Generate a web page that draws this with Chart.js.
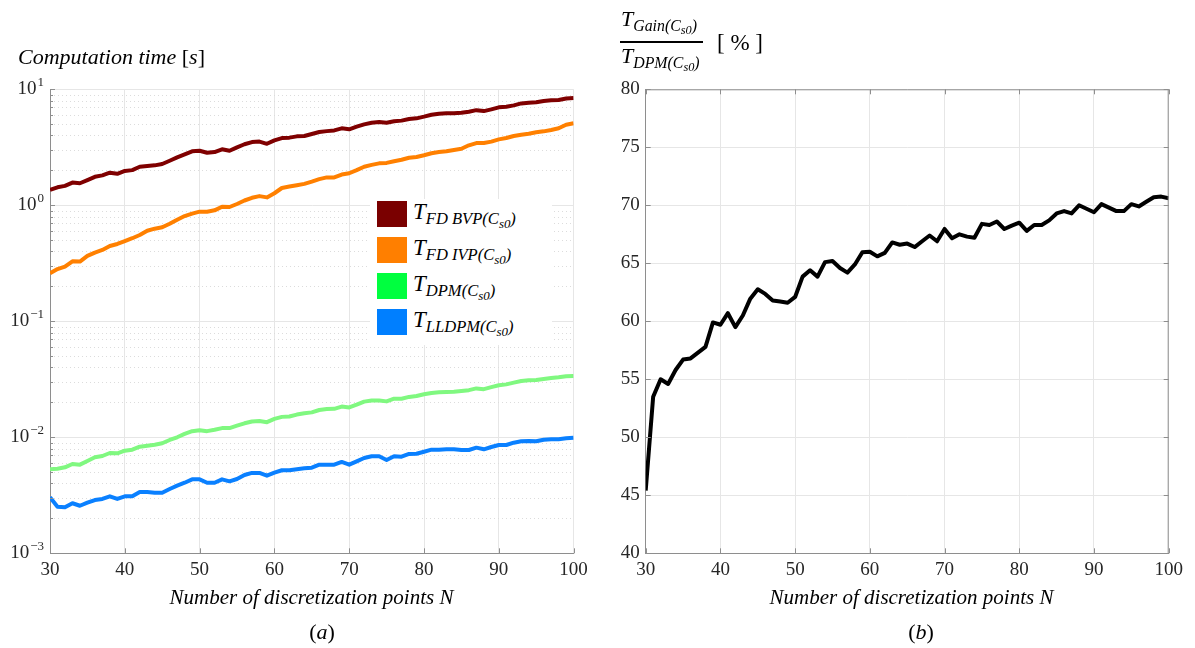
<!DOCTYPE html>
<html>
<head>
<meta charset="utf-8">
<title>Computation time</title>
<script src="https://cdn.jsdelivr.net/npm/chart.js@4.4.1/dist/chart.umd.min.js"></script>
<style>
  html, body { margin: 0; padding: 0; background: #fff; }
  body { position: relative; width: 1195px; height: 648px; overflow: hidden;
         font-family: "Liberation Serif", "DejaVu Serif", serif; color: #000; }
  canvas { position: absolute; top: 0; }
  #chartA { left: 0; }
  #chartB { left: 600px; }
  .txt { position: absolute; line-height: 1; white-space: nowrap; }
  .it { font-style: italic; }
  .up { font-style: normal; }
  sub { font-size: 0.72em; vertical-align: -0.3em; line-height: 0; }
  sub sub { font-size: 0.78em; vertical-align: -0.28em; }
  #legend { position: absolute; left: 370px; top: 199px; width: 182px; height: 146px; background: #fff; }
  .sw { position: absolute; left: 7px; width: 30px; height: 26px; }
  .lt { position: absolute; left: 43px; font-size: 23px; font-style: italic; line-height: 1; white-space: nowrap; }
  #bar { position: absolute; left: 620px; top: 41px; width: 83px; height: 1.5px; background: #000; }
</style>
</head>
<body>
<canvas id="chartA" width="600" height="648"></canvas>
<canvas id="chartB" width="595" height="648"></canvas>

<div class="txt it" style="left:18px; top:46px; font-size:22px;">Computation time <span class="up">[</span>s<span class="up">]</span></div>

<div class="txt it" style="left:621px; top:8px; font-size:22px;">T<sub>Gain(C<sub>s0</sub>)</sub></div>
<div id="bar"></div>
<div class="txt it" style="left:621px; top:45px; font-size:22px;">T<sub>DPM(C<sub>s0</sub>)</sub></div>
<div class="txt" style="left:717px; top:31px; font-size:23px;">[ % ]</div>

<div id="legend">
  <div class="sw" style="top:2px; background:#7a0000;"></div>
  <div class="lt" style="top:1px;">T<sub>FD BVP(C<sub>s0</sub>)</sub></div>
  <div class="sw" style="top:38px; background:#ff7f00;"></div>
  <div class="lt" style="top:37px;">T<sub>FD IVP(C<sub>s0</sub>)</sub></div>
  <div class="sw" style="top:74px; background:#00ff3f;"></div>
  <div class="lt" style="top:73px;">T<sub>DPM(C<sub>s0</sub>)</sub></div>
  <div class="sw" style="top:110px; background:#007fff;"></div>
  <div class="lt" style="top:109px;">T<sub>LLDPM(C<sub>s0</sub>)</sub></div>
</div>

<div class="txt it" style="left:0; width:623px; text-align:center; top:587px; font-size:21px;">Number of discretization points N</div>
<div class="txt it" style="left:600px; width:623px; text-align:center; top:587px; font-size:21px;">Number of discretization points N</div>
<div class="txt it" style="left:300px; width:44px; text-align:center; top:621px; font-size:22px;"><span class="up">(</span>a<span class="up">)</span></div>
<div class="txt it" style="left:899px; width:44px; text-align:center; top:621px; font-size:22px;"><span class="up">(</span>b<span class="up">)</span></div>

<script>
// number of discretization points
const nPoints = [30,31,32,33,34,35,36,37,38,39,40,41,42,43,44,45,46,47,48,49,
  50,51,52,53,54,55,56,57,58,59,60,61,62,63,64,65,66,67,68,69,
  70,71,72,73,74,75,76,77,78,79,80,81,82,83,84,85,86,87,88,89,
  90,91,92,93,94,95,96,97,98,99,100];

// computation times [s]
const tBvp = [1.36,1.43,1.47,1.57,1.55,1.65,1.76,1.81,1.91,1.87,
  1.98,2.01,2.15,2.18,2.21,2.27,2.42,2.59,2.75,2.92,
  2.95,2.84,2.88,3.04,2.95,3.16,3.36,3.51,3.54,3.39,
  3.63,3.80,3.83,3.93,3.96,4.12,4.28,4.36,4.42,4.61,
  4.52,4.76,4.98,5.15,5.22,5.15,5.30,5.37,5.55,5.62,
  5.81,6.04,6.16,6.23,6.23,6.27,6.40,6.61,6.49,6.71,
  6.99,7.07,7.27,7.56,7.67,7.72,7.92,8.03,8.09,8.33,8.42];
const tIvp = [0.259,0.282,0.296,0.329,0.327,0.366,0.391,0.412,0.446,0.464,
  0.492,0.520,0.555,0.604,0.629,0.646,0.694,0.751,0.808,0.847,
  0.881,0.881,0.905,0.973,0.967,1.026,1.10,1.16,1.20,1.17,
  1.27,1.41,1.45,1.49,1.53,1.60,1.68,1.74,1.74,1.84,
  1.89,2.01,2.15,2.23,2.30,2.32,2.40,2.47,2.57,2.61,
  2.70,2.81,2.88,2.92,3.00,3.07,3.29,3.44,3.44,3.54,
  3.70,3.80,3.96,4.06,4.14,4.26,4.34,4.46,4.61,4.95,5.09];
const tDpm = [0.00530,0.00536,0.00551,0.00589,0.00581,0.00625,0.00672,0.00690,0.00732,0.00728,
  0.00767,0.00782,0.00830,0.00847,0.00864,0.00888,0.00948,0.0100,0.0107,0.0113,
  0.0115,0.0113,0.0116,0.0120,0.0120,0.0126,0.0132,0.0137,0.0138,0.0135,
  0.0144,0.0150,0.0151,0.0157,0.0161,0.0164,0.0172,0.0175,0.0176,0.0184,
  0.0181,0.0191,0.0203,0.0208,0.0208,0.0204,0.0215,0.0215,0.0223,0.0227,
  0.0235,0.0241,0.0244,0.0246,0.0247,0.0251,0.0255,0.0264,0.0260,0.0271,
  0.0281,0.0286,0.0296,0.0306,0.0310,0.0312,0.0318,0.0324,0.0329,0.0336,0.0338];
const tLldpm = [0.00304,0.00252,0.00249,0.00270,0.00257,0.00273,0.00288,0.00294,0.00310,0.00294,
  0.00310,0.00310,0.00337,0.00337,0.00333,0.00333,0.00358,0.00383,0.00406,0.00434,
  0.00434,0.00406,0.00406,0.00434,0.00417,0.00437,0.00473,0.00493,0.00493,0.00467,
  0.00495,0.00520,0.00520,0.00530,0.00540,0.00547,0.00581,0.00581,0.00581,0.00613,
  0.00581,0.00621,0.00663,0.00686,0.00686,0.00637,0.00686,0.00681,0.00718,0.00722,
  0.00751,0.00782,0.00782,0.00788,0.00788,0.00777,0.00777,0.00814,0.00788,0.00825,
  0.00858,0.00858,0.00899,0.00924,0.00929,0.00924,0.00953,0.00961,0.00961,0.00980,0.00993];

// gain ratio [%]
const gainPct = [45.4,53.5,55.0,54.6,55.8,56.7,56.8,57.3,57.8,59.9,
  59.7,60.7,59.5,60.5,61.95,62.76,62.36,61.8,61.7,61.6,
  62.1,63.85,64.4,63.85,65.1,65.2,64.6,64.2,64.9,65.95,
  66.0,65.6,65.9,66.8,66.6,66.7,66.4,66.9,67.4,66.9,
  67.96,67.15,67.5,67.3,67.2,68.4,68.3,68.6,67.96,68.25,
  68.5,67.8,68.3,68.3,68.7,69.3,69.5,69.3,70.0,69.7,
  69.4,70.1,69.8,69.5,69.5,70.1,69.9,70.3,70.7,70.75,70.6];

// tick labels
const xTicks = [30,40,50,60,70,80,90,100];
const decades = [1e-3, 1e-2, 1e-1, 1e0, 1e1];

Chart.defaults.font.family = '"Liberation Serif", "DejaVu Serif", serif';
Chart.defaults.font.size = 19;
Chart.defaults.color = '#262626';

const pts = (ys) => nPoints.map((n, i) => ({x: n, y: ys[i]}));
const isDecade = (v) => decades.some(d => Math.abs(v / d - 1) < 1e-6);

// log ticks 1..9 x 10^k
const logTicks = [];
decades.forEach((d, i) => {
  logTicks.push(d);
  if (i < decades.length - 1) for (let k = 2; k <= 9; k++) logTicks.push(k * d);
});

const GRID = '#e6e6e6';
const AXIS = '#8e8e8e';

// dotted minor grid + inward tick marks, MATLAB style
const matlabAxes = {
  id: 'matlabAxes',
  beforeDatasetsDraw(chart, args, opts) {
    const {ctx, chartArea: a, scales: {x, y}} = chart;
    if (!opts.minorGrid) return;
    ctx.save();
    ctx.strokeStyle = '#dcdcdc';
    ctx.lineWidth = 1;
    ctx.setLineDash([1, 3]);
    ctx.beginPath();
    y.ticks.forEach(t => {
      if (isDecade(t.value)) return;
      const py = Math.round(y.getPixelForValue(t.value)) + 0.5;
      ctx.moveTo(a.left, py); ctx.lineTo(a.right, py);
    });
    ctx.stroke();
    ctx.restore();
  },
  afterDatasetsDraw(chart, args, opts) {
    const {ctx, chartArea: a, scales: {x, y}} = chart;
    ctx.save();
    ctx.strokeStyle = AXIS;
    ctx.lineWidth = 1;
    ctx.beginPath();
    x.ticks.forEach(t => {
      const px = Math.round(x.getPixelForValue(t.value)) + 0.5;
      ctx.moveTo(px, a.bottom); ctx.lineTo(px, a.bottom - 5);
      if (opts.box) { ctx.moveTo(px, a.top); ctx.lineTo(px, a.top + 5); }
    });
    y.ticks.forEach(t => {
      const py = Math.round(y.getPixelForValue(t.value)) + 0.5;
      const len = (opts.minorGrid && !isDecade(t.value)) ? 3 : 5;
      ctx.moveTo(a.left, py); ctx.lineTo(a.left + len, py);
      if (opts.box) { ctx.moveTo(a.right, py); ctx.lineTo(a.right - len, py); }
    });
    if (opts.box) {
      ctx.moveTo(a.left, a.top + 0.5); ctx.lineTo(a.right, a.top + 0.5);
      ctx.moveTo(a.right - 0.5, a.top); ctx.lineTo(a.right - 0.5, a.bottom);
    }
    ctx.stroke();

    // 10^k labels for the log axis
    if (opts.minorGrid) {
      ctx.fillStyle = '#262626';
      ctx.textAlign = 'right';
      ctx.textBaseline = 'middle';
      decades.forEach(d => {
        const e = Math.round(Math.log10(d));
        const py = y.getPixelForValue(d);
        const right = a.left - 6;
        const sup = e < 0 ? '\u2212' + (-e) : String(e);
        ctx.font = '13px "Liberation Serif"';
        ctx.fillText(sup, right, py - 7);
        const w = ctx.measureText(sup).width;
        ctx.font = '19px "Liberation Serif"';
        ctx.fillText('10', right - w - 1, py);
      });
    }
    ctx.restore();
  }
};

const fixX = (h) => (s) => { s.height = h; s.paddingLeft = 0; s.paddingRight = 0; };
const fixY = (w) => (s) => { s.width = w; s.paddingTop = 0; s.paddingBottom = 0; };

const xScale = (h) => ({
  type: 'linear', min: 30, max: 100,
  afterBuildTicks: (s) => { s.ticks = xTicks.map(v => ({value: v})); },
  afterFit: fixX(h),
  grid: {color: GRID, drawTicks: false},
  border: {color: AXIS},
  ticks: {padding: 5, maxRotation: 0, autoSkip: false}
});

const line = (data, color, label) => ({
  label, data: pts(data), borderColor: color, backgroundColor: color,
  borderWidth: 4, pointRadius: 0, tension: 0, borderJoinStyle: 'round'
});

new Chart(document.getElementById('chartA'), {
  type: 'line',
  data: {
    datasets: [
      line(tBvp, '#7f0000', 'T FD BVP'),
      line(tIvp, '#ff8000', 'T FD IVP'),
      line(tDpm, '#80f880', 'T DPM'),
      line(tLldpm, '#0a80ff', 'T LLDPM')
    ]
  },
  options: {
    responsive: false,
    animation: false,
    layout: {padding: {left: 0, top: 89.3, right: 26.4, bottom: 54.7}},
    plugins: {legend: {display: false}, tooltip: {enabled: false}, matlabAxes: {minorGrid: true, box: false}},
    scales: {
      x: xScale(40),
      y: {
        type: 'logarithmic', min: 1e-3, max: 10,
        afterBuildTicks: (s) => { s.ticks = logTicks.map(v => ({value: v})); },
        afterFit: fixY(50),
        grid: {color: (c) => isDecade(c.tick.value) ? GRID : 'rgba(0,0,0,0)', drawTicks: false},
        border: {color: AXIS},
        ticks: {display: false, autoSkip: false}
      }
    }
  },
  plugins: [matlabAxes]
});

new Chart(document.getElementById('chartB'), {
  type: 'line',
  data: {datasets: [line(gainPct, '#000000', 'Gain')]},
  options: {
    responsive: false,
    animation: false,
    layout: {padding: {left: 0, top: 89.3, right: 26.3, bottom: 54.7}},
    plugins: {legend: {display: false}, tooltip: {enabled: false}, matlabAxes: {minorGrid: false, box: true}},
    scales: {
      x: xScale(40),
      y: {
        type: 'linear', min: 40, max: 80,
        afterFit: fixY(45.7),
        grid: {color: GRID, drawTicks: false},
        border: {color: AXIS},
        ticks: {stepSize: 5, padding: 6, autoSkip: false}
      }
    }
  },
  plugins: [matlabAxes]
});
</script>
</body>
</html>
